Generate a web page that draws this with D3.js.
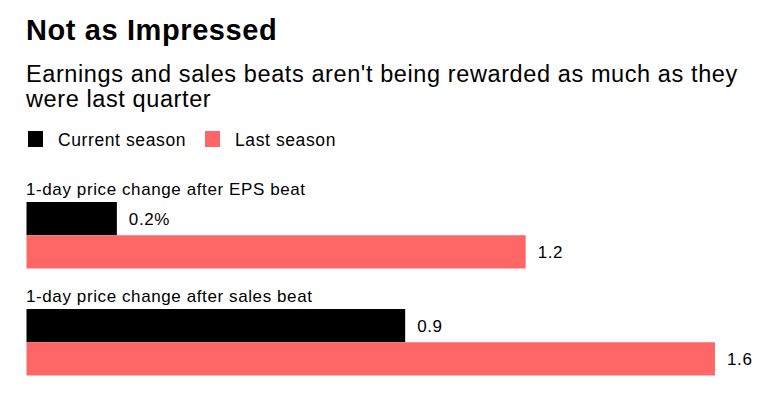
<!DOCTYPE html>
<html>
<head>
<meta charset="utf-8">
<script src="https://cdn.jsdelivr.net/npm/d3@7"></script>
<style>
  body { margin: 0; background: #fff; }
  text { font-family: "Liberation Sans", Arial, sans-serif; fill: #000; letter-spacing: 0.6px; }
</style>
</head>
<body>
<svg id="chart" width="778" height="406"></svg>
<script>
// data
var groups = ["1-day price change after EPS beat", "1-day price change after sales beat"];
var series = ["Current season", "Last season"];
var currentVals = [0.21, 0.88];
var lastVals = [1.16, 1.6];
var colors = ["#000000", "#ff6666"];

var svg = d3.select("#chart");

svg.append("text")
    .attr("x", 26).attr("y", 40)
    .style("font-size", "29px").style("font-weight", "bold")
    .text("Not as Impressed");

var subtitle = ["Earnings and sales beats aren't being rewarded as much as they",
                "were last quarter"];
svg.selectAll("text.sub")
  .data(subtitle)
  .enter().append("text")
    .attr("class", "sub")
    .attr("x", 26)
    .attr("y", function(d, i) { return 81.5 + i * 25.5; })
    .style("font-size", "23.5px")
    .text(function(d) { return d; });

// legend
var legendX = [28, 205];
var legend = svg.selectAll("g.legend")
  .data(series)
  .enter().append("g")
    .attr("class", "legend")
    .attr("transform", function(d, i) { return "translate(" + legendX[i] + ",131)"; });
legend.append("rect")
    .attr("width", 15).attr("height", 16)
    .attr("fill", function(d, i) { return colors[i]; });
legend.append("text")
    .attr("x", 30).attr("y", 15)
    .style("font-size", "17.5px")
    .text(function(d) { return d; });

// scales
var x = d3.scaleLinear().domain([0, 1.6]).range([26.5, 715]);
var y = d3.scaleBand().domain(groups).range([202, 416]);
var ySub = d3.scaleBand().domain(series).range([0, 66.5]);

var rows = groups.map(function(g, i) {
  return { group: g, vals: [currentVals[i], lastVals[i]] };
});

var g = svg.selectAll("g.group")
  .data(rows)
  .enter().append("g")
    .attr("class", "group")
    .attr("transform", function(d) { return "translate(0," + y(d.group) + ")"; });

g.append("text")
    .attr("x", 26).attr("y", -7.5)
    .style("font-size", "17px")
    .text(function(d) { return d.group; });

var fmt = d3.format(".1f");
g.selectAll("rect")
  .data(function(d) { return d.vals.map(function(v, j) { return { s: series[j], v: v, j: j }; }); })
  .enter().append("rect")
    .attr("x", x(0))
    .attr("y", function(d) { return ySub(d.s); })
    .attr("width", function(d) { return x(d.v) - x(0); })
    .attr("height", ySub.bandwidth())
    .attr("fill", function(d) { return colors[d.j]; });

g.selectAll("text.val")
  .data(function(d, i) { return d.vals.map(function(v, j) { return { s: series[j], v: v, j: j, first: i === 0 && j === 0 }; }); })
  .enter().append("text")
    .attr("class", "val")
    .attr("x", function(d) { return x(d.v) + 12; })
    .attr("y", function(d) { return ySub(d.s) + ySub.bandwidth() / 2 + 6.5; })
    .style("font-size", "17px")
    .text(function(d) { return fmt(d.v) + (d.first ? "%" : ""); });
</script>
</body>
</html>
